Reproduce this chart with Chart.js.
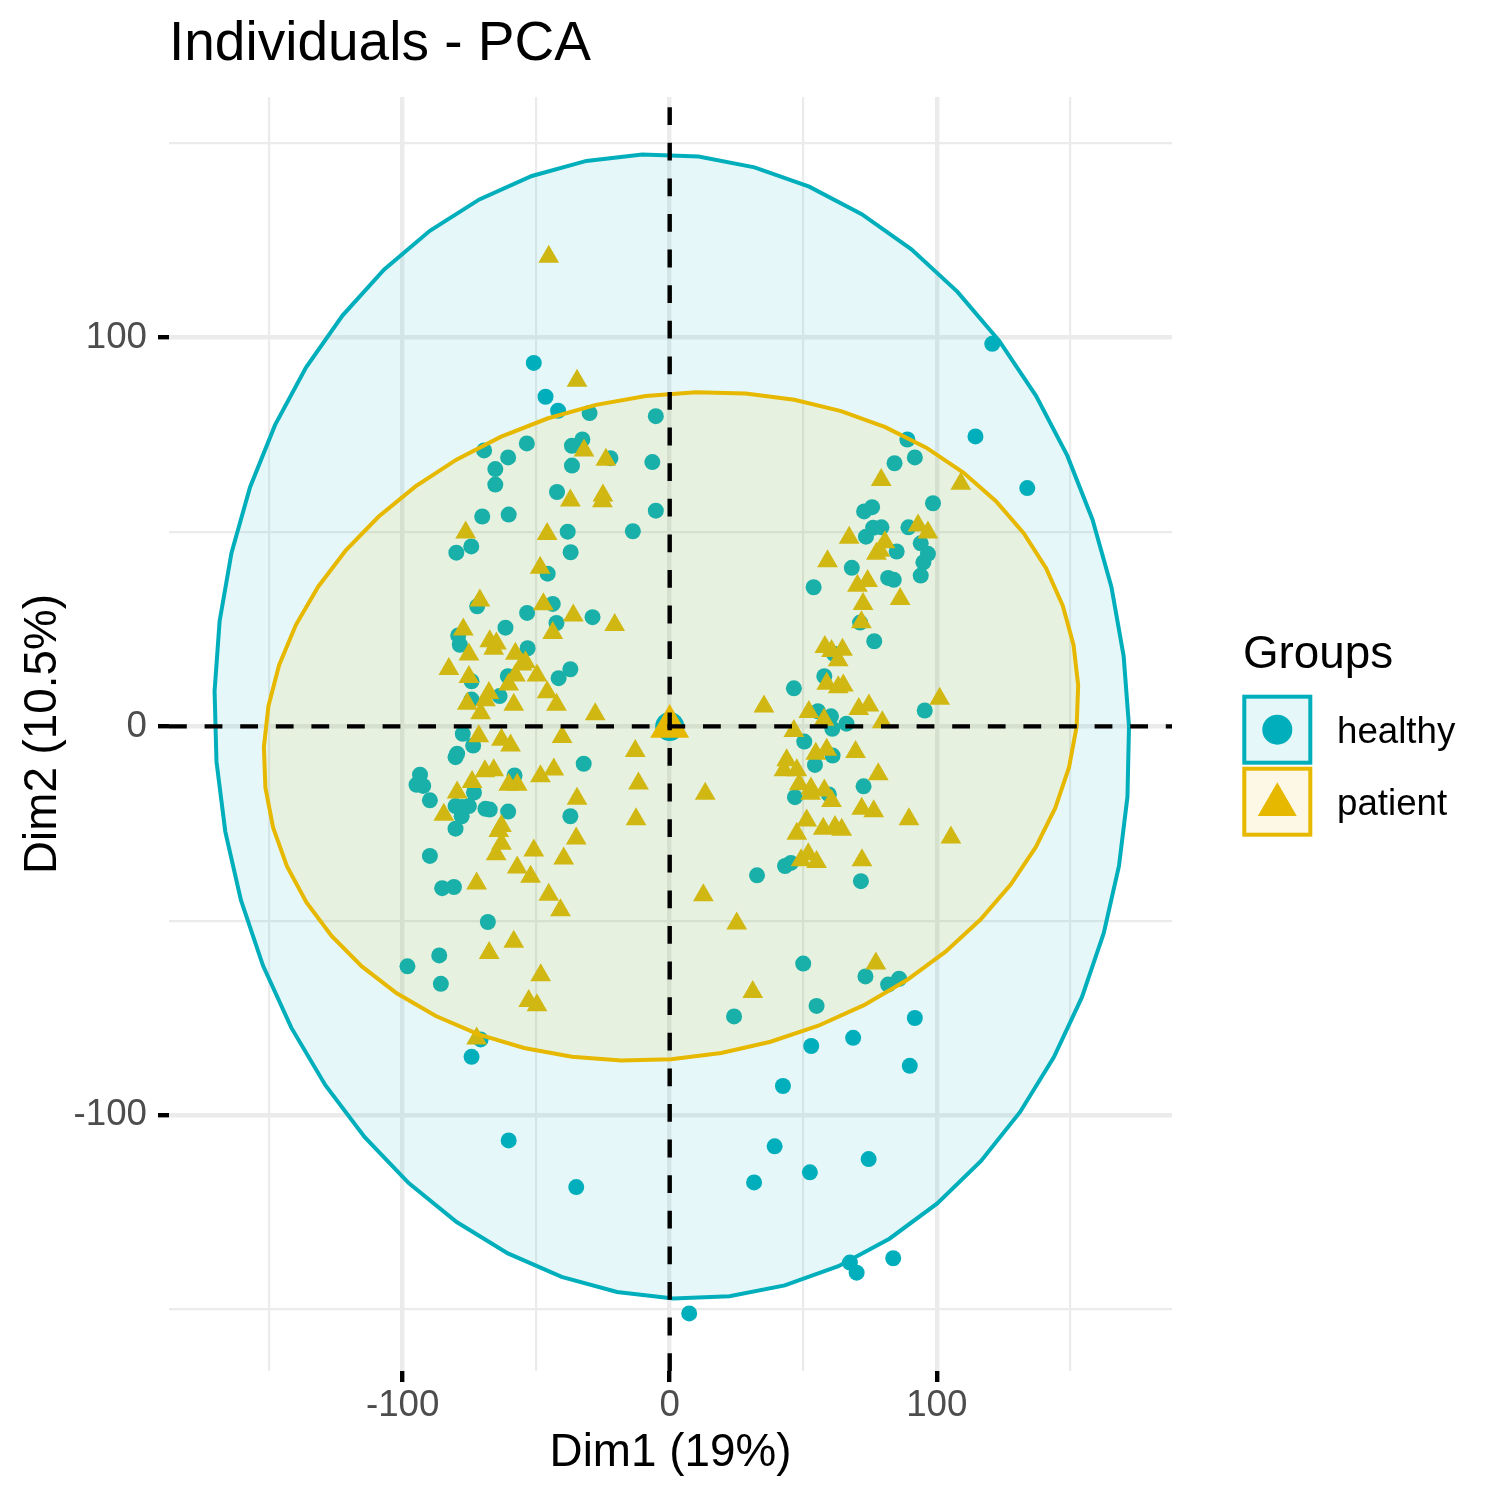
<!DOCTYPE html>
<html>
<head>
<meta charset="utf-8">
<script src="https://cdn.jsdelivr.net/npm/chart.js@4.4.1/dist/chart.umd.min.js"></script>
<style>
html,body{margin:0;padding:0;background:#ffffff;}
#wrap{width:1500px;height:1500px;position:relative;background:#ffffff;}
canvas{display:block;}
</style>
</head>
<body>
<div id="wrap"><canvas id="c" width="1500" height="1500"></canvas></div>
<script>
// ---------------- data ----------------
const groups = ['healthy', 'patient'];
const groupColors = ['#00AFBB', '#E7B800'];

const healthyX = [-50.9,-46.5,-41.8,-30.0,-5.2,-69.5,-60.5,-53.5,-36.6,-32.7,-22.2,-36.6,-6.5,-65.3,-65.3,-42.2,-5.2,-70.2,-60.3,-38.2,-13.8,
  -79.9,-74.3,-37.1,-45.7,-72.1,-53.4,-43.8,-42.4,-28.9,-61.5,-79.2,-78.6,-53.2,-74.2,-60.6,-37.2,-41.6,-74.2,-63.7,-77.5,-73.6,-79.6,-80.2,-32.2,-58.1,-93.5,-94.8,-92.3,-73.3,-89.8,-80.2,-75.2,-77.7,-69.0,-67.4,-60.5,-77.9,-37.2,-80.2,
  -89.8,-85.2,-80.8,-68.1,-86.3,-98.2,-85.7,-70.8,-74.2,-60.3,-35.0,
  120.8,114.5,133.9,89.0,91.8,84.2,98.6,72.8,75.8,76.2,79.3,89.4,73.5,94.0,96.7,95.0,85.0,94.0,68.2,81.8,83.9,53.9,71.3,
  76.6,61.5,57.9,46.5,55.5,60.4,66.2,95.5,60.9,50.4,61.0,54.4,72.6,46.9,59.6,43.2,45.4,32.7,71.6,
  50.0,73.3,81.8,85.9,24.1,55.0,91.8,68.7,53.0,89.9,42.4,39.3,74.5,52.5,31.6,67.5,70.0,83.7,7.3];
const healthyY = [93.5,84.8,81.2,80.6,79.8,71.0,69.2,72.8,72.2,73.8,69.0,67.1,68.0,66.2,62.2,60.3,55.5,54.0,54.5,50.1,50.2,
  44.7,46.3,44.8,39.3,30.9,29.2,31.5,26.6,28.1,25.4,23.4,21.0,20.1,11.6,12.9,14.7,12.4,6.9,7.8,-1.9,-4.9,-7.0,-7.9,-9.6,-12.6,-12.4,-15.0,-15.3,-17.0,-19.0,-20.5,-20.5,-20.7,-21.2,-21.4,-21.9,-23.1,-23.1,-26.3,
  -33.3,-41.6,-41.3,-50.3,-58.9,-61.7,-66.2,-80.5,-85.0,-106.5,-118.5,
  98.4,74.6,61.3,73.8,69.2,67.7,57.4,55.3,56.4,51.1,51.2,51.2,48.8,47.1,44.4,42.2,45.0,38.8,40.8,38.2,37.7,35.8,26.7,
  21.9,18.7,12.9,9.8,3.9,2.6,0.7,4.1,-0.6,-3.9,-7.5,-9.9,-15.4,-18.2,-17.5,-35.9,-35.1,-38.3,-39.8,
  -61.0,-64.3,-66.4,-64.9,-74.6,-71.9,-75.0,-80.1,-82.2,-87.3,-92.5,-108.0,-111.3,-114.7,-117.3,-137.9,-140.5,-136.8,-151.0];

const patientX = [-45.3,-34.7,-32.1,-23.9,-37.2,-25.0,-25.2,-76.4,-45.9,
  -48.5,-71.1,-47.3,-36.1,-20.6,-43.8,-77.3,-75.2,-67.4,-64.9,-65.9,-57.8,-54.0,-55.3,-82.7,-75.2,-57.8,-49.7,-60.3,-45.9,-67.7,-69.0,-75.8,-58.4,-42.4,-70.8,-27.9,-71.5,-63.0,-59.6,-40.3,-12.9,-69.2,-65.9,-43.4,-48.4,-11.7,-74.0,-60.3,-57.1,-79.6,-34.7,-84.6,-12.6,-63.0,-64.0,-35.0,
  -63.0,-65.0,-50.9,-57.1,-39.7,-52.1,-72.3,-45.3,-40.9,-58.4,-67.6,-48.3,-52.8,-49.7,-72.3,
  109.0,79.2,93.0,96.7,67.2,80.6,77.4,78.7,59.1,70.3,74.1,86.3,72.4,71.8,
  58.1,60.6,64.7,63.1,58.8,63.1,65.0,35.3,52.1,57.8,70.8,74.6,101.1,79.6,46.5,54.7,58.8,69.6,43.8,42.8,47.6,78.1,13.3,48.5,52.9,52.8,57.9,60.6,71.9,76.4,89.6,51.3,47.6,57.5,61.9,64.4,105.3,49.2,51.9,55.0,72.0,12.6,25.1,
  77.2,31.1];
const patientY = [120.8,88.9,71.0,68.6,58.1,59.4,57.9,49.9,49.5,
  40.8,32.4,31.4,28.5,26.1,24.0,24.9,18.5,21.9,21.3,20.0,18.7,16.5,15.9,14.8,12.7,13.1,13.1,10.8,8.8,8.6,6.7,5.8,5.6,5.6,3.4,3.1,-2.5,-3.4,-4.9,-2.7,-6.3,-11.5,-11.3,-11.1,-12.8,-14.7,-14.3,-15.0,-15.0,-17.0,-18.6,-22.7,-23.9,-25.6,-26.9,-28.8,
  -30.2,-32.9,-31.9,-36.3,-34.0,-38.7,-40.4,-43.3,-47.3,-55.4,-58.3,-64.0,-70.6,-71.7,-80.3,
  62.4,63.4,51.7,49.9,48.5,47.4,44.4,45.2,42.5,36.2,37.4,32.8,31.5,26.8,
  20.4,19.4,19.7,17.0,11.0,10.1,10.5,5.1,3.7,1.7,4.5,5.4,7.1,1.1,-1.2,-7.0,-6.0,-6.6,-8.7,-11.3,-11.3,-12.3,-17.3,-14.9,-16.0,-17.3,-16.5,-19.2,-21.2,-21.8,-23.9,-24.2,-27.6,-26.3,-25.9,-26.6,-28.6,-34.4,-32.9,-34.9,-34.4,-43.4,-50.7,
  -61.0,-68.3];

// group centres (healthy, patient)
const meanX = [0, 0];
const meanY = [0, 0];

// concentration ellipses: [centreX, centreY, a, b, d]
const healthyEllipse = [0.8, 0, 171.2, -5.8, 147.2];
const patientEllipse = [0.5, 0, 151.9, 14, 86];

// axes
const xLimits = [-187.5, 188.1];
const yLimits = [-165.8, 161.9];
const xTickValues = [-150, -100, -50, 0, 50, 100, 150];
const yTickValues = [-150, -100, -50, 0, 50, 100, 150];
const xLabelValues = [-100, 0, 100];
const yLabelValues = [-100, 0, 100];
const titleText = 'Individuals - PCA';
const xTitle = 'Dim1 (19%)';
const yTitle = 'Dim2 (10.5%)';
const legendTitle = 'Groups';

// ---------------- helpers ----------------
const toPts = (xs, ys) => xs.map((x, i) => ({x: x, y: ys[i]}));
function ellipsePts(e) {
  const [cx, cy, a, b, d] = e;
  const n = 51, pts = [];
  for (let i = 0; i <= n; i++) {
    const t = 2 * Math.PI * i / n;
    pts.push({x: cx + a * Math.cos(t) + b * Math.sin(t), y: cy + d * Math.sin(t)});
  }
  return pts;
}
const isMajor = c => c && c.tick && Math.round(c.tick.value) % 100 === 0;

const FONT = '"Liberation Sans", Arial, Helvetica, sans-serif';
Chart.defaults.font.family = FONT;

const legendPlugin = {
  id: 'groupsLegend',
  afterDraw(chart) {
    const ctx = chart.ctx;
    ctx.save();
    ctx.textBaseline = 'alphabetic';
    ctx.textAlign = 'left';
    ctx.fillStyle = '#000000';
    ctx.font = '45.8px ' + FONT;
    ctx.fillText(legendTitle, 1243, 668);
    const fills = ['rgba(0,175,187,0.1)', 'rgba(231,184,0,0.1)'];
    for (let i = 0; i < groups.length; i++) {
      const top = 696.7 + i * 72;
      ctx.fillStyle = fills[i];
      ctx.fillRect(1244.3, top, 66, 66);
      ctx.strokeStyle = groupColors[i];
      ctx.lineWidth = 4;
      ctx.strokeRect(1244.3, top, 66, 66);
      ctx.fillStyle = groupColors[i];
      const cx = 1277.3, cy = top + 33;
      ctx.beginPath();
      if (i === 0) {
        ctx.arc(cx, cy, 15, 0, Math.PI * 2);
      } else {
        const r = 22.5, c0 = cy + 3;
        ctx.moveTo(cx, c0 - r);
        ctx.lineTo(cx + r * Math.sin(2 * Math.PI / 3), c0 + r / 2);
        ctx.lineTo(cx - r * Math.sin(2 * Math.PI / 3), c0 + r / 2);
        ctx.closePath();
      }
      ctx.fill();
      ctx.fillStyle = '#000000';
      ctx.font = '36.7px ' + FONT;
      ctx.fillText(groups[i], 1337, top + 46);
    }
    ctx.restore();
  }
};

const dash = [17.8, 17.8];

new Chart(document.getElementById('c'), {
  type: 'scatter',
  data: {
    datasets: [
      {type: 'line', label: 'h0', data: [{x: xLimits[0], y: 0}, {x: xLimits[1], y: 0}],
        borderColor: '#000000', borderWidth: 4.4, borderDash: dash, pointRadius: 0, fill: false, order: 0},
      {type: 'line', label: 'v0', data: [{x: 0, y: yLimits[0]}, {x: 0, y: yLimits[1]}],
        borderColor: '#000000', borderWidth: 4.4, borderDash: dash, pointRadius: 0, fill: false, order: 0},
      {label: 'patient mean', data: [{x: meanX[1], y: meanY[1]}], pointStyle: 'triangle', pointRadius: 22.5,
        backgroundColor: groupColors[1], borderWidth: 0, order: 1},
      {label: 'healthy mean', data: [{x: meanX[0], y: meanY[0]}], pointStyle: 'circle', pointRadius: 14.5,
        backgroundColor: groupColors[0], borderWidth: 0, order: 2},
      {type: 'line', label: 'patient ellipse', data: ellipsePts(patientEllipse), borderColor: groupColors[1],
        backgroundColor: 'rgba(231,184,0,0.1)', borderWidth: 4, pointRadius: 0, fill: 'shape', tension: 0, order: 3},
      {type: 'line', label: 'healthy ellipse', data: ellipsePts(healthyEllipse), borderColor: groupColors[0],
        backgroundColor: 'rgba(0,175,187,0.1)', borderWidth: 4, pointRadius: 0, fill: 'shape', tension: 0, order: 4},
      {label: 'patient', data: toPts(patientX, patientY), pointStyle: 'triangle', pointRadius: 12,
        backgroundColor: groupColors[1], borderWidth: 0, order: 5},
      {label: 'healthy', data: toPts(healthyX, healthyY), pointStyle: 'circle', pointRadius: 8,
        backgroundColor: groupColors[0], borderWidth: 0, order: 6}
    ]
  },
  options: {
    responsive: false,
    animation: false,
    events: [],
    layout: {padding: {left: 0, right: 328, top: 0, bottom: 0}},
    plugins: {
      legend: {display: false},
      tooltip: {enabled: false},
      title: {display: true, text: titleText, align: 'start', fullSize: false, color: '#000000',
        font: {size: 55, weight: 'normal', lineHeight: 1.2}, padding: {top: 12, bottom: 19}}
    },
    scales: {
      x: {
        type: 'linear', position: 'bottom', min: xLimits[0], max: xLimits[1],
        afterBuildTicks: s => { s.ticks = xTickValues.map(v => ({value: v})); },
        afterFit: s => { s.height = 129; },
        border: {display: false},
        grid: {color: '#EBEBEB', lineWidth: c => isMajor(c) ? 4.4 : 2.2, drawTicks: true, tickLength: 11,
          tickWidth: 4.4, tickColor: c => isMajor(c) ? '#000000' : 'rgba(0,0,0,0)'},
        ticks: {autoSkip: false, maxRotation: 0, padding: 2, color: '#4D4D4D', font: {size: 36.7},
          callback: v => xLabelValues.includes(v) ? String(v) : ''},
        title: {display: true, text: xTitle, color: '#000000', font: {size: 45.8, lineHeight: 1.2}, padding: {top: 0, bottom: 19.5}}
      },
      y: {
        type: 'linear', position: 'left', min: yLimits[0], max: yLimits[1],
        afterBuildTicks: s => { s.ticks = yTickValues.map(v => ({value: v})); },
        afterFit: s => { s.width = 169; },
        border: {display: false},
        grid: {color: '#EBEBEB', lineWidth: c => isMajor(c) ? 4.4 : 2.2, drawTicks: true, tickLength: 11,
          tickWidth: 4.4, tickColor: c => isMajor(c) ? '#000000' : 'rgba(0,0,0,0)'},
        ticks: {autoSkip: false, padding: 11, color: '#4D4D4D', font: {size: 36.7},
          callback: v => yLabelValues.includes(v) ? String(v) : ''},
        title: {display: true, text: yTitle, color: '#000000', font: {size: 45.8, lineHeight: 1.2}, padding: {top: 15.5, bottom: 0}}
      }
    }
  },
  plugins: [legendPlugin]
});
</script>
</body>
</html>
